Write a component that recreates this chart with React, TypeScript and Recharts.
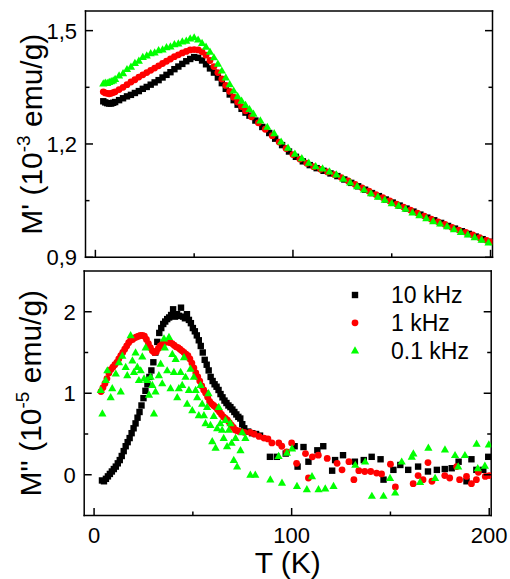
import React from 'react'
import { ScatterChart, Scatter, XAxis, YAxis } from 'recharts'

type Pt = [number, number]

// M' (10^-3 emu/g) vs T (K)
const real10k: Pt[] = [
  [4,1.313],[5,1.310],[6,1.308],[7,1.307],[8,1.307],[9,1.309],[10,1.311],[12,1.316],[14,1.321],[16,1.326],
  [18,1.330],[20,1.335],[22,1.340],[24,1.346],[26,1.351],[28,1.357],[30,1.363],[32,1.369],[34,1.376],[36,1.383],
  [38,1.390],[40,1.398],[42,1.405],[44,1.412],[46,1.419],[48,1.425],[50,1.430],[52,1.428],[54,1.421],[56,1.411],
  [58,1.400],[60,1.389],[62,1.376],[64,1.361],[66,1.346],[68,1.331],[70,1.316],[72,1.304],[74,1.293],[76,1.283],
  [78,1.275],[81,1.262],[84.5,1.245],[88,1.229],[91,1.214],[94.5,1.197],[98,1.180],[101.5,1.166],[105,1.154],[108.5,1.144],
  [112,1.136],[115.5,1.129],[119,1.122],[122.5,1.115],[126,1.106],[129.5,1.097],[133,1.088],[136.5,1.079],[140,1.070],[143.5,1.062],
  [147,1.053],[150.5,1.045],[154,1.037],[157.5,1.029],[161,1.021],[164.5,1.013],[168,1.005],[171.5,0.998],[175,0.991],[178.5,0.983],
  [182,0.976],[185.5,0.969],[189,0.962],[192.5,0.955],[196,0.948],[199.5,0.941],
]
const real1k: Pt[] = [
  [4,1.338],[5,1.335],[6,1.334],[7,1.333],[8,1.334],[9,1.336],[10,1.338],[12,1.344],[14,1.350],[16,1.357],
  [18,1.364],[20,1.370],[22,1.377],[24,1.383],[26,1.389],[28,1.395],[30,1.401],[32,1.407],[34,1.413],[36,1.419],
  [38,1.425],[40,1.431],[42,1.436],[44,1.441],[46,1.445],[48,1.449],[50,1.450],[52,1.449],[54,1.444],[56,1.435],
  [58,1.421],[60,1.405],[62,1.389],[64,1.372],[66,1.355],[68,1.339],[70,1.324],[72,1.311],[74,1.299],[76,1.288],
  [79,1.272],[82.5,1.256],[86,1.239],[89.5,1.222],[93,1.205],[96.5,1.188],[100,1.172],[103.5,1.160],[107,1.149],[110.5,1.140],
  [114,1.133],[117.5,1.126],[121,1.119],[124.5,1.111],[128,1.102],[131.5,1.093],[135,1.084],[138.5,1.075],[142,1.066],[145.5,1.058],
  [149,1.049],[152.5,1.041],[156,1.033],[159.5,1.025],[163,1.017],[166.5,1.009],[170,1.001],[173.5,0.994],[177,0.987],[180.5,0.979],
  [184,0.972],[187.5,0.966],[191,0.959],[194.5,0.952],[198,0.945],[200,0.941],
]
const real01k: Pt[] = [
  [4,1.360],[5,1.362],[6,1.361],[7,1.364],[8,1.366],[9,1.368],[10,1.372],[12,1.381],[14,1.387],[16,1.398],
  [18,1.404],[20,1.414],[22,1.420],[24,1.430],[26,1.434],[28,1.440],[30,1.442],[32,1.448],[34,1.450],[36,1.456],
  [38,1.458],[40,1.464],[42,1.466],[44,1.471],[46,1.473],[48,1.479],[50,1.482],[52,1.476],[54,1.467],[56,1.457],
  [58,1.444],[60,1.429],[62,1.412],[64,1.394],[66,1.376],[68,1.358],[70,1.341],[72,1.326],[74,1.314],[76,1.303],
  [78,1.292],[80,1.280],[83.5,1.262],[87,1.245],[90.5,1.228],[94,1.206],[97.5,1.190],[101,1.174],[104.5,1.162],[108,1.150],
  [111.5,1.141],[115,1.135],[118.5,1.127],[122,1.119],[125.5,1.108],[129,1.098],[132.5,1.088],[136,1.079],[139.5,1.069],[143,1.060],
  [146.5,1.052],[150,1.043],[153.5,1.036],[157,1.028],[160.5,1.018],[164,1.011],[167.5,1.003],[171,0.995],[174.5,0.989],[178,0.982],
  [181.5,0.974],[185,0.967],[188.5,0.960],[192,0.953],[195.5,0.946],[199,0.939],
]

// M'' (10^-5 emu/g) vs T (K)
const imag10k: Pt[] = [
  [4,-0.07],[5,-0.08],[6,-0.05],[7,-0.02],[8,0.01],[9,0.04],[10,0.07],[11,0.1],[12,0.14],[13,0.18],
  [14,0.23],[15,0.29],[16,0.35],[17,0.4],[18,0.45],[19,0.51],[20,0.57],[21,0.63],[22,0.7],[23,0.77],
  [24,0.85],[25,0.94],[26,1.03],[27,1.11],[28,1.2],[29,1.28],[30,1.38],[31,1.5],[32,1.63],[33,1.74],
  [34,1.8],[35,1.85],[36,1.88],[37,1.91],[38,1.93],[39,1.96],[40,2.03],[41,1.94],[42,1.97],[43,1.95],
  [44,2.05],[45,1.94],[46,1.92],[47,1.97],[48,1.9],[49,1.86],[50,1.8],[51,1.76],[52,1.71],[53,1.65],
  [54,1.58],[55,1.5],[56,1.41],[57,1.35],[58,1.28],[59,1.2],[60,1.15],[61,1.11],[62,1.08],[63,1.04],
  [64,0.99],[65,0.95],[66,0.91],[67,0.88],[68,0.85],[69,0.83],[70,0.8],[71,0.77],[72,0.74],[73,0.71],
  [74,0.69],[75,0.62],[76,0.57],[78,0.53],[80,0.51],[82,0.5],[84,0.48],
  [89,0.22],[92.5,0.22],[97,0.26],[101.5,0.35],[103,0.1],[106,0.34],[108.5,0.16],[113,0.3],[116,0.35],[120.5,0.05],
  [122,0.18],[126,0.24],[132,0.16],[136.5,0.18],[140.5,0.22],[145,0.19],[146.5,-0.06],[151.5,0.06],[155,0.12],[159,0.06],
  [164,0.1],[169,0.04],[173.5,0.06],[177.5,0.07],[181,0.08],[184.5,0.16],[188.5,-0.08],[191,0.19],[193.5,0.06],[197,0.06],
  [199.5,0.22],
]
const imag1k: Pt[] = [
  [3.5,1.02],[4.5,1.07],[5.5,1.12],[6.5,1.18],[7.5,1.25],[8.5,1.29],[9.5,1.32],[10.5,1.35],[11.5,1.38],[12.5,1.42],
  [13.5,1.46],[14.5,1.5],[15.5,1.54],[16.5,1.58],[17.5,1.62],[18.5,1.65],[19.5,1.66],[20.5,1.68],[21.5,1.69],[22.5,1.7],
  [23.5,1.71],[24.5,1.71],[25.5,1.7],[26.5,1.66],[27.5,1.61],[28.5,1.56],[29.5,1.52],[30.5,1.5],[31.5,1.51],[32.5,1.55],
  [33.5,1.58],[34.5,1.6],[35.5,1.62],[36.5,1.63],[37.5,1.63],[38.5,1.62],[39.5,1.61],[40.5,1.59],[41.5,1.57],[42.5,1.56],
  [43.5,1.54],[44.5,1.52],[45.5,1.5],[46.5,1.48],[47.5,1.46],[48.5,1.42],[49.5,1.37],[50.5,1.31],[51.5,1.25],[52.5,1.2],
  [53.5,1.15],[54.5,1.09],[55.5,1.04],[56.5,1.0],[57.5,0.95],[58.5,0.9],[59.5,0.87],[60.5,0.85],[61.5,0.83],[62.5,0.8],
  [63.5,0.77],[64.5,0.74],[65.5,0.71],[66.5,0.69],[67.5,0.67],[68.5,0.64],[69.5,0.61],[70.5,0.58],[71.5,0.55],[72.5,0.54],
  [73.5,0.53],[74.5,0.53],[76,0.52],[79,0.52],[81,0.5],[83.5,0.47],[86,0.45],[88,0.44],
  [90,0.39],[93.5,0.39],[95,0.35],[97.5,0.28],[100,0.39],[102.5,0.14],[107,0.26],[108.5,-0.04],[110.5,0.22],[113.5,0.24],
  [118,0.2],[123,0.14],[125.5,0.06],[129,0.16],[131.5,-0.06],[134,0.05],[137,0.04],[140,0.04],[143,0.02],[145.5,0.01],
  [150,0.13],[152.5,-0.15],[161.5,-0.11],[164,-0.01],[166.5,-0.06],[169,0.15],[171,-0.08],[177.5,-0.01],[180,-0.04],[183.5,0.1],
  [185,-0.06],[188.5,-0.02],[191,-0.11],[193.5,-0.06],[194.5,0.03],[198,-0.02],[200,-0.01],
]
const imag01k: Pt[] = [
  [3.4,1.04],[4.2,0.75],[5.9,1.16],[6.7,1.28],[8.4,0.95],[9.2,1.06],[11,1.24],[12.6,1.38],[13.5,1.02],[14.3,1.46],
  [16,1.32],[16.8,1.22],[18.5,1.71],[19.4,1.4],[20.2,1.26],[21,1.5],[21.9,1.32],[22.7,1.16],[23.6,1.28],[24.4,1.45],
  [25.3,1.18],[26.1,1.56],[26.9,1.16],[27.8,0.98],[28.6,1.2],[29.5,1.1],[30.3,0.75],[31.1,1.02],[32.8,1.22],[33.7,1.36],
  [34.5,1.12],[35.4,1.67],[35.8,1.56],[37,1.28],[37.9,1.69],[38.7,1.06],[39.6,1.48],[40.4,1.26],[41.3,1.42],[42.1,0.95],
  [42.9,1.06],[43.8,1.26],[44.6,1.1],[45.5,1.44],[46.3,1.2],[47.1,0.87],[48,1.04],[48.8,1.3],[49.7,0.79],[50.5,1.2],
  [51.4,1.04],[52.2,0.95],[53,0.73],[53.9,1.1],[54.7,0.87],[55.6,0.73],[56.4,0.63],[57.2,0.83],[57.9,1.0],[58.9,0.61],
  [59.8,0.41],[60.6,0.72],[61.5,0.33],[62.3,0.57],[63.1,0.83],[63.9,0.63],[64.8,0.55],[65.6,0.45],[66.5,0.67],[67.3,0.35],
  [68.2,0.55],[69,0.63],[69.6,0.39],[70.7,0.18],[71.6,0.45],[72.4,0.1],[74.1,0.3],[75,0.52],[76.6,0.45],[79.1,0],
  [81.6,0],[89.2,-0.06],[93.4,0.23],[95.1,-0.1],[97.6,0.27],[100.2,0.32],[102.7,-0.14],[107.7,-0.18],[110.3,-0.02],[113.6,-0.18],
  [117,-0.17],[121.2,-0.14],[132.2,0.12],[137.2,0.16],[140.6,-0.26],[146.5,-0.26],[149.8,-0.04],[152.4,-0.22],[155.7,0.16],[160.8,0.22],
  [161.6,0.26],[165,-0.09],[169.2,0.33],[172.6,-0.04],[177.6,0.31],[182.7,0.24],[184.3,0.1],[187.7,0.24],[193.6,0.38],[194.2,0.08],
  [197.8,0.11],[199.8,0.37],
]

const seriesNames = ['10 kHz', '1 kHz', '0.1 kHz']
const seriesColors = ['#000000', '#ff0000', '#00ff00']

const tTicks = [0, 50, 100, 150, 200]
const tLabeled = [0, 100, 200]
const realTicks = [0.9, 1.05, 1.2, 1.35, 1.5]
const realLabeled = [0.9, 1.2, 1.5]
const imagTicks = [0, 0.5, 1, 1.5, 2]
const imagLabeled = [0, 1, 2]

const tDomain: [number, number] = [-5, 201]
const realDomain: [number, number] = [0.9, 1.552]
const imagDomain: [number, number] = [-0.5, 2.5]

const FONT = '"Liberation Sans", Arial, Helvetica, sans-serif'
const frame = { stroke: '#000', strokeWidth: 1.5, strokeLinecap: 'square' as const }
// axes need a non-zero size to be drawn; 1px each, taken back out of the margins
const AX = 1

// marker shapes, one per frequency
const markers = [
  (c: string) => (p: any) => <rect x={p.cx - 3.2} y={p.cy - 3.2} width={6.4} height={6.4} fill={c} />,
  (c: string) => (p: any) => <circle cx={p.cx} cy={p.cy} r={3.4} fill={c} />,
  (c: string) => (p: any) => (
    <polygon points={`${p.cx},${p.cy - 4.3} ${p.cx + 4.1},${p.cy + 2.9} ${p.cx - 4.1},${p.cy + 2.9}`} fill={c} />
  ),
]

// inward tick marks: long on labelled values, short otherwise
function tickMark(side: 'bottom' | 'top' | 'left' | 'right', labeled: number[], fmt?: (v: number) => string) {
  return (p: any) => {
    const v = p.payload.value
    const major = labeled.includes(v)
    const len = major ? 7.5 : 4
    const { x, y } = p
    let line
    if (side === 'bottom') line = <line x1={x} x2={x} y1={y} y2={y - len} />
    else if (side === 'top') line = <line x1={x} x2={x} y1={y} y2={y + len} />
    else if (side === 'left') line = <line x1={x} x2={x + len} y1={y} y2={y} />
    else line = <line x1={x} x2={x - len} y1={y} y2={y} />
    return (
      <g stroke="#000" strokeWidth={1.5}>
        {line}
        {fmt && major && side === 'bottom' && (
          <text x={x} y={y + 27} textAnchor="middle" fontSize={22} fontFamily={FONT} fill="#000" stroke="none">{fmt(v)}</text>
        )}
        {fmt && major && side === 'left' && (
          <text x={x - 8.5} y={y + 8} textAnchor="end" fontSize={22} fontFamily={FONT} fill="#000" stroke="none">{fmt(v)}</text>
        )}
      </g>
    )
  }
}

function YTitle({ viewBox, main, sup, prefix }: any) {
  const x = viewBox.x + viewBox.width - 43
  const y = viewBox.y + viewBox.height / 2
  return (
    <text x={x} y={y} transform={`rotate(-90, ${x}, ${y})`} textAnchor="middle" fontSize={30} fontFamily={FONT} fill="#000">
      {prefix}
      <tspan fontSize={19} dy={-12}>{sup}</tspan>
      <tspan dy={12}>{main}</tspan>
    </text>
  )
}

function TTitle({ viewBox }: any) {
  return (
    <text x={viewBox.x + viewBox.width / 2} y={viewBox.y + 57} textAnchor="middle" fontSize={30} fontFamily={FONT} fill="#000">
      T (K)
    </text>
  )
}

interface PanelProps {
  sets: Pt[][]
  yDomain: [number, number]
  yTicks: number[]
  yLabeled: number[]
  yFmt: (v: number) => string
  titlePrefix: string
  titleSup: string
  height: number
  plot: { top: number; right: number; bottom: number; left: number }
  showT: boolean
}

function Panel({ sets, yDomain, yTicks, yLabeled, yFmt, titlePrefix, titleSup, height, plot, showT }: PanelProps) {
  const margin = { top: plot.top - AX, right: plot.right - AX, bottom: plot.bottom - AX, left: plot.left - AX }
  return (
    <ScatterChart width={510} height={height} margin={margin}>
      <XAxis xAxisId="b" type="number" dataKey="t" domain={tDomain} allowDataOverflow ticks={tTicks} interval={0}
        height={AX} tickSize={0} tickMargin={0} tickLine={false} axisLine={frame}
        tick={tickMark('bottom', tLabeled, showT ? (v) => String(v) : undefined)}
        label={showT ? <TTitle /> : undefined} />
      <XAxis xAxisId="t" orientation="top" type="number" domain={tDomain} allowDataOverflow ticks={tTicks} interval={0}
        height={AX} tickSize={0} tickMargin={0} tickLine={false} axisLine={frame} tick={tickMark('top', tLabeled)} />
      <YAxis yAxisId="l" type="number" dataKey="m" domain={yDomain} allowDataOverflow ticks={yTicks} interval={0}
        width={AX} tickSize={0} tickMargin={0} tickLine={false} axisLine={frame}
        tick={tickMark('left', yLabeled, yFmt)}
        label={<YTitle prefix={titlePrefix} sup={titleSup} main=" emu/g)" />} />
      <YAxis yAxisId="r" orientation="right" type="number" domain={yDomain} allowDataOverflow ticks={yTicks} interval={0}
        width={AX} tickSize={0} tickMargin={0} tickLine={false} axisLine={frame} tick={tickMark('right', yLabeled)} />
      {sets.map((pts, i) => (
        <Scatter key={seriesNames[i]} name={seriesNames[i]} xAxisId="b" yAxisId="l"
          data={pts.map(([t, m]) => ({ t, m }))} fill={seriesColors[i]}
          shape={markers[i](seriesColors[i])} isAnimationActive={false} />
      ))}
    </ScatterChart>
  )
}

function FreqLegend() {
  return (
    <svg width={160} height={90} style={{ position: 'absolute', left: 340, top: 280 }}>
      {seriesNames.map((name, i) => {
        const cy = 15 + i * 27.8
        return (
          <g key={name}>
            {markers[i](seriesColors[i])({ cx: 15, cy })}
            <text x={51} y={cy + 8} fontSize={23} fontFamily={FONT} fill="#000">{name}</text>
          </g>
        )
      })}
    </svg>
  )
}

export default function App() {
  return (
    <div style={{ position: 'absolute', left: 0, top: 0, width: 510, height: 579, background: '#fff' }}>
      <div style={{ position: 'absolute', left: 0, top: 0 }}>
        <Panel sets={[real10k, real1k, real01k]} yDomain={realDomain} yTicks={realTicks} yLabeled={realLabeled}
          yFmt={(v) => v.toFixed(1).replace('.', ',')} titlePrefix="M' (10" titleSup="-3"
          height={280} plot={{ top: 11, right: 17.5, bottom: 22.7, left: 85.5 }} showT={false} />
      </div>
      <div style={{ position: 'absolute', left: 0, top: 264 }}>
        <Panel sets={[imag10k, imag1k, imag01k]} yDomain={imagDomain} yTicks={imagTicks} yLabeled={imagLabeled}
          yFmt={(v) => String(v)} titlePrefix="M'' (10" titleSup="-5"
          height={315} plot={{ top: 7, right: 18.8, bottom: 63.5, left: 84.2 }} showT />
      </div>
      <FreqLegend />
    </div>
  )
}
